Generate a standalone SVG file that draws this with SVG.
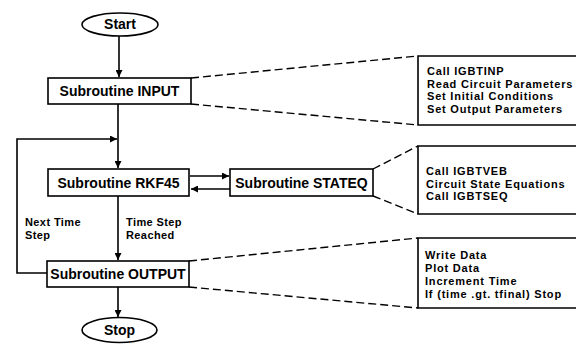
<svg xmlns="http://www.w3.org/2000/svg" width="576" height="347" viewBox="0 0 576 347">
  <style>
    .box { fill: #fff; stroke: #000; stroke-width: 1.6; }
    .note { fill: none; stroke: #000; stroke-width: 1.6; }
    .line { fill: none; stroke: #000; stroke-width: 1.6; }
    .dash { fill: none; stroke: #000; stroke-width: 1.4; stroke-dasharray: 8 4; }
    .lbl { font-family: "Liberation Sans", Arial, sans-serif; font-weight: bold; font-size: 14px; fill: #000; text-anchor: middle; }
    .txt { font-family: "Liberation Sans", Arial, sans-serif; font-weight: bold; font-size: 11px; letter-spacing: 0.8px; fill: #000; }
    .side { font-family: "Liberation Sans", Arial, sans-serif; font-weight: bold; font-size: 11px; letter-spacing: 0.4px; fill: #000; }
  </style>
  <defs>
    <marker id="arrow" viewBox="0 0 10 10" refX="10" refY="5" markerWidth="7" markerHeight="7" markerUnits="userSpaceOnUse" orient="auto">
      <path d="M0,0 L10,5 L0,10 z" fill="#000"/>
    </marker>
  </defs>

  <g id="connectors">
    <line class="line" x1="119" y1="36" x2="119" y2="77" marker-end="url(#arrow)"/>
    <line class="line" x1="118" y1="104" x2="118" y2="168" marker-end="url(#arrow)"/>
    <polyline class="line" points="47,273 17,273 17,139 117,139" marker-end="url(#arrow)"/>
    <line class="line" x1="190" y1="176" x2="229" y2="176" marker-end="url(#arrow)"/>
    <line class="line" x1="230" y1="189" x2="191" y2="189" marker-end="url(#arrow)"/>
    <line class="line" x1="118" y1="196" x2="118" y2="260" marker-end="url(#arrow)"/>
    <line class="line" x1="118" y1="287" x2="118" y2="317" marker-end="url(#arrow)"/>
    <!-- dashed call-outs -->
    <line class="dash" x1="191" y1="78" x2="418" y2="56"/>
    <line class="dash" x1="191" y1="104" x2="418" y2="125"/>
    <line class="dash" x1="373" y1="169" x2="418" y2="146"/>
    <line class="dash" x1="373" y1="196" x2="418" y2="214"/>
    <line class="dash" x1="189" y1="261" x2="418" y2="238"/>
    <line class="dash" x1="189" y1="287" x2="418" y2="308"/>
    <text class="side" x="25" y="226">Next Time</text>
    <text class="side" x="25" y="239">Step</text>
    <text class="side" x="126" y="226">Time Step</text>
    <text class="side" x="126" y="239">Reached</text>
  </g>

  <g id="start">
    <ellipse class="box" cx="120" cy="24.5" rx="38" ry="11.5"/>
    <text class="lbl" x="120" y="29">Start</text>
  </g>

  <g id="input">
    <rect class="box" x="48" y="78" width="143" height="26"/>
    <text class="lbl" x="119.5" y="96">Subroutine INPUT</text>
  </g>

  <g id="rkf45">
    <rect class="box" x="48" y="169" width="141" height="27"/>
    <text class="lbl" x="118.5" y="188">Subroutine RKF45</text>
  </g>

  <g id="stateq">
    <rect class="box" x="230" y="169" width="143" height="27"/>
    <text class="lbl" x="301.5" y="188">Subroutine STATEQ</text>
  </g>

  <g id="output">
    <rect class="box" x="47" y="261" width="142" height="26"/>
    <text class="lbl" x="118" y="279">Subroutine OUTPUT</text>
  </g>

  <g id="stop">
    <ellipse class="box" cx="119.5" cy="330" rx="37.5" ry="12.5"/>
    <text class="lbl" x="119.5" y="335">Stop</text>
  </g>

  <g id="note-input">
    <polyline class="note" points="580,56 418,56 418,125 580,125"/>
    <text class="txt" x="427" y="75">Call IGBTINP</text>
    <text class="txt" x="427" y="87.7">Read Circuit Parameters</text>
    <text class="txt" x="427" y="100.4">Set Initial Conditions</text>
    <text class="txt" x="427" y="113.1">Set Output Parameters</text>
  </g>

  <g id="note-stateq">
    <polyline class="note" points="580,146 418,146 418,214 580,214"/>
    <text class="txt" x="426" y="175">Call IGBTVEB</text>
    <text class="txt" x="426" y="187.7">Circuit State Equations</text>
    <text class="txt" x="426" y="200.4">Call IGBTSEQ</text>
  </g>

  <g id="note-output">
    <polyline class="note" points="580,238 418,238 418,308 580,308"/>
    <text class="txt" x="425" y="259">Write Data</text>
    <text class="txt" x="425" y="272">Plot Data</text>
    <text class="txt" x="425" y="285">Increment Time</text>
    <text class="txt" x="425" y="298">If (time .gt. tfinal) Stop</text>
  </g>
</svg>
